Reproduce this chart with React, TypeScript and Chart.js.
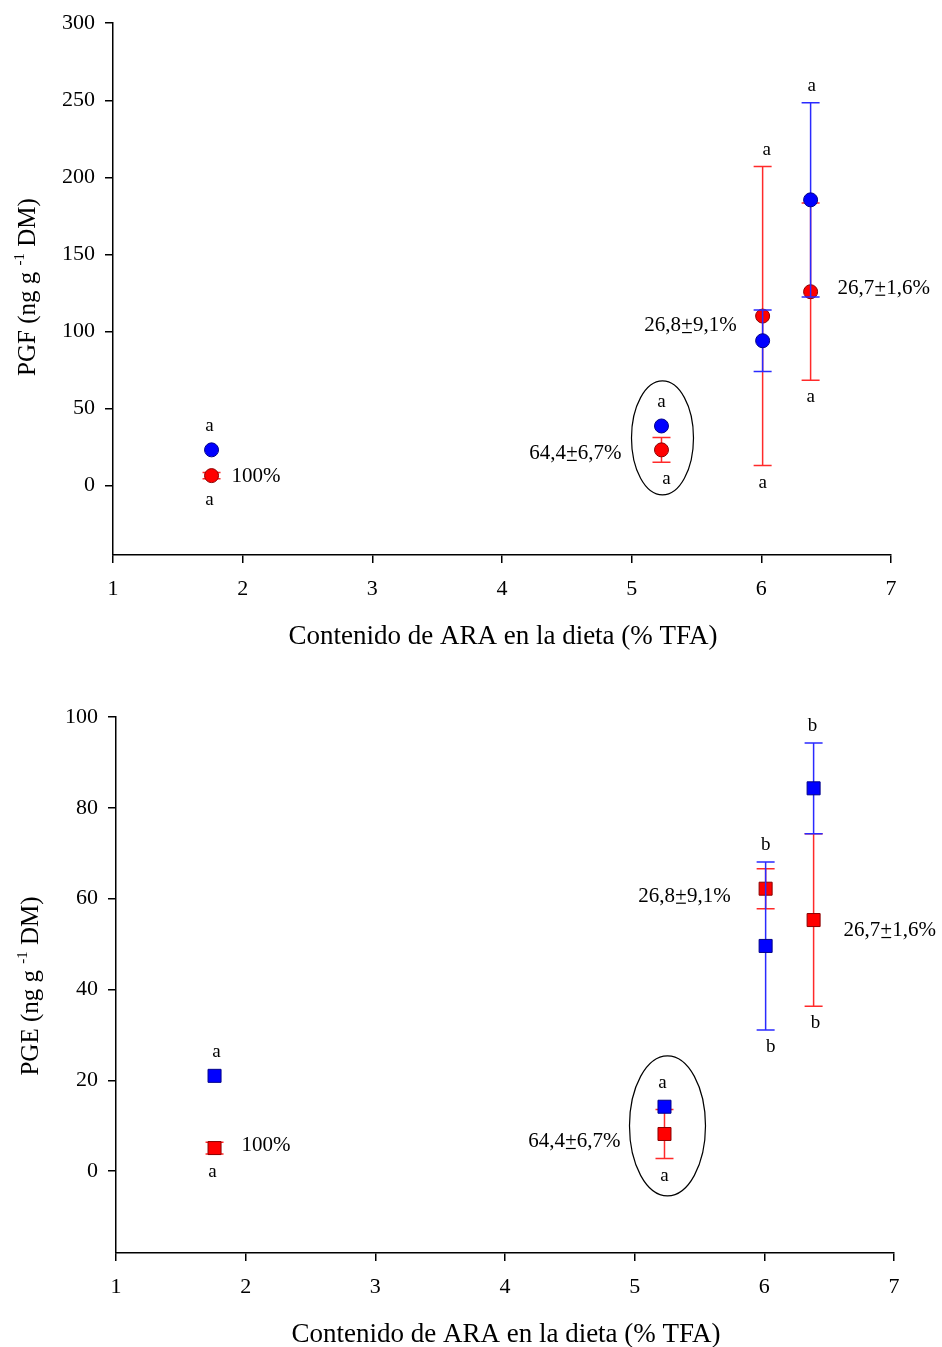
import React, { useEffect, useRef } from "react";
import { Chart, registerables } from "chart.js";

Chart.register(...registerables);

// Dietary ARA content (% of total fatty acids) for the four diets
const araContent = [1.76, 5.23, 6.01, 6.38];
const xTicks = [1, 2, 3, 4, 5, 6, 7];

// PGF (ng g-1 DM): mean and error for the blue and red series
const pgfTicks = [0, 50, 100, 150, 200, 250, 300];
const pgfBlue = [23.2, 38.7, 94.0, 185.4];
const pgfBlueErr = [0, 0, 20.0, 63.0];
const pgfRed = [6.5, 23.2, 110.0, 125.8];
const pgfRedErr = [2.0, 8.0, 97.0, 57.5];
const pgfUpperLetters = ["a", "a", "a", "a"];
const pgfLowerLetters = ["a", "a", "a", "a"];

// PGE (ng g-1 DM): mean and error for the blue and red series
const pgeTicks = [0, 20, 40, 60, 80, 100];
const pgeBlue = [21.0, 14.2, 49.6, 84.3];
const pgeBlueErr = [0, 0, 18.5, 10.0];
const pgeRed = [5.1, 8.2, 62.2, 55.3];
const pgeRedErr = [1.3, 5.4, 4.4, 19.0];
const pgeUpperLetters = ["a", "a", "b", "b"];
const pgeLowerLetters = ["a", "a", "b", "b"];

// Share labels written next to each diet ("±" is typeset as an underlined plus)
const shareLabels = ["100%", "64,4±6,7%", "26,8±9,1%", "26,7±1,6%"];

const X_TITLE = "Contenido de ARA en la dieta (% TFA)";
const FONT = "'Liberation Serif', 'Times New Roman', serif";
const CANVAS_W = 942;

type Panel = {
  canvasHeight: number;
  area: { left: number; right: number; top: number; bottom: number };
  yMin: number;
  yMax: number;
  yTicks: number[];
  yName: string;
  blue: number[];
  blueErr: number[];
  red: number[];
  redErr: number[];
  upper: string[];
  lower: string[];
  pointStyle: "circle" | "rect";
  pointRadius: number;
  markerHalf: number;
  upperDx: number[];
  lowerDx: number[];
  shareDx: number[];
  shareDy: number[];
  ellipse: { dx: number; dy: number; rx: number; ry: number };
  xTitleAt: [number, number];
  yTitleAt: [number, number];
};

const panels: Panel[] = [
  {
    canvasHeight: 673,
    area: { left: 113, right: 891, top: 20, bottom: 555 },
    yMin: -45,
    yMax: 300,
    yTicks: pgfTicks,
    yName: "PGF",
    blue: pgfBlue,
    blueErr: pgfBlueErr,
    red: pgfRed,
    redErr: pgfRedErr,
    upper: pgfUpperLetters,
    lower: pgfLowerLetters,
    pointStyle: "circle",
    pointRadius: 7,
    markerHalf: 7,
    upperDx: [-2, 0, 4, 1],
    lowerDx: [-2, 5, 0, 0],
    shareDx: [20, -40, -26, 27],
    shareDy: [-1, 2, 8, -5],
    ellipse: { dx: 1, dy: 0, rx: 31, ry: 57 },
    xTitleAt: [503, 637],
    yTitleAt: [27, 287],
  },
  {
    canvasHeight: 674,
    area: { left: 116, right: 894, top: 44, bottom: 580 },
    yMin: -18,
    yMax: 100,
    yTicks: pgeTicks,
    yName: "PGE",
    blue: pgeBlue,
    blueErr: pgeBlueErr,
    red: pgeRed,
    redErr: pgeRedErr,
    upper: pgeUpperLetters,
    lower: pgeLowerLetters,
    pointStyle: "rect",
    pointRadius: 9.2,
    markerHalf: 6.5,
    upperDx: [2, -2, 0, -1],
    lowerDx: [-2, 0, 5, 2],
    shareDx: [27, -44, -35, 30],
    shareDy: [-4, 6, 6, 9],
    ellipse: { dx: 3, dy: 5.5, rx: 38, ry: 70 },
    xTitleAt: [506, 662],
    yTitleAt: [30, 313],
  },
];

const CAP = 9;

// Draws each dataset's vertical error bars right before its markers
const errorBarPlugin = {
  id: "errorBars",
  beforeDatasetDraw(chart: any, args: any) {
    const ds = chart.data.datasets[args.index];
    const errs: number[] | undefined = ds.errors;
    if (!errs) return;
    const xs = chart.scales.x;
    const ys = chart.scales.y;
    const ctx = chart.ctx;
    ctx.save();
    ctx.strokeStyle = ds.errorColor;
    ctx.lineWidth = 1.5;
    ds.data.forEach((p: { x: number; y: number }, i: number) => {
      const e = errs[i];
      if (!e) return;
      const px = xs.getPixelForValue(p.x);
      const top = ys.getPixelForValue(p.y + e);
      const bot = ys.getPixelForValue(p.y - e);
      ctx.beginPath();
      ctx.moveTo(px, top);
      ctx.lineTo(px, bot);
      ctx.moveTo(px - CAP, top);
      ctx.lineTo(px + CAP, top);
      ctx.moveTo(px - CAP, bot);
      ctx.lineTo(px + CAP, bot);
      ctx.stroke();
    });
    ctx.restore();
  },
};

// Writes a share label, rendering "±" as a plus sign with an underline
function drawShareLabel(
  ctx: CanvasRenderingContext2D,
  text: string,
  x: number,
  yMid: number,
  alignLeft: boolean
) {
  const parts = text.split("±");
  const pieces: string[] = [];
  parts.forEach((p, k) => {
    pieces.push(p);
    if (k < parts.length - 1) pieces.push("+");
  });
  const widths = pieces.map((p) => ctx.measureText(p).width);
  const total = widths.reduce((a, b) => a + b, 0);
  let cx = alignLeft ? x : x - total;
  const baseline = yMid + 7;
  ctx.textAlign = "left";
  ctx.textBaseline = "alphabetic";
  pieces.forEach((p, k) => {
    ctx.fillText(p, cx, baseline);
    if (k % 2 === 1) {
      ctx.save();
      ctx.lineWidth = 1.2;
      ctx.beginPath();
      ctx.moveTo(cx + 1, baseline + 1.5);
      ctx.lineTo(cx + widths[k] - 1, baseline + 1.5);
      ctx.stroke();
      ctx.restore();
    }
    cx += widths[k];
  });
}

function makeTextPlugin(panel: Panel) {
  return {
    id: "panelText",
    afterDraw(chart: any) {
      const ctx: CanvasRenderingContext2D = chart.ctx;
      const xs = chart.scales.x;
      const ys = chart.scales.y;
      ctx.save();
      ctx.fillStyle = "#000";
      ctx.strokeStyle = "#000";

      araContent.forEach((xv, i) => {
        const px = xs.getPixelForValue(xv);
        const series = [
          { m: panel.blue[i], e: panel.blueErr[i] },
          { m: panel.red[i], e: panel.redErr[i] },
        ];
        let upper = Infinity;
        let lower = -Infinity;
        series.forEach(({ m, e }) => {
          upper = Math.min(upper, ys.getPixelForValue(m + e), ys.getPixelForValue(m) - panel.markerHalf);
          lower = Math.max(lower, ys.getPixelForValue(m - e), ys.getPixelForValue(m) + panel.markerHalf);
        });

        // significance letters above and below each diet
        ctx.font = `19px ${FONT}`;
        ctx.textAlign = "center";
        ctx.textBaseline = "middle";
        ctx.fillText(panel.upper[i], px + panel.upperDx[i], upper - 17);
        ctx.fillText(panel.lower[i], px + panel.lowerDx[i], lower + 17);

        // share label beside the red marker
        const redY = ys.getPixelForValue(panel.red[i]);
        const dx = panel.shareDx[i];
        ctx.font = `21px ${FONT}`;
        drawShareLabel(ctx, shareLabels[i], px + dx, redY + panel.shareDy[i], dx > 0);

        // ellipse around the second diet
        if (i === 1) {
          const blueY = ys.getPixelForValue(panel.blue[i]);
          const cy = (blueY + redY) / 2 + panel.ellipse.dy;
          ctx.lineWidth = 1.2;
          ctx.beginPath();
          ctx.ellipse(px + panel.ellipse.dx, cy, panel.ellipse.rx, panel.ellipse.ry, 0, 0, Math.PI * 2);
          ctx.stroke();
        }
      });

      // x-axis title
      ctx.font = `27px ${FONT}`;
      ctx.textAlign = "center";
      ctx.textBaseline = "middle";
      ctx.fillText(X_TITLE, panel.xTitleAt[0], panel.xTitleAt[1]);

      // rotated y-axis title with a superscript exponent
      const big = `25px ${FONT}`;
      const small = `15px ${FONT}`;
      const partA = `${panel.yName} (ng g `;
      const sup = "-1";
      const partB = " DM)";
      ctx.font = big;
      const wA = ctx.measureText(partA).width;
      const wB = ctx.measureText(partB).width;
      ctx.font = small;
      const wS = ctx.measureText(sup).width;
      const total = wA + wS + wB;
      ctx.translate(panel.yTitleAt[0], panel.yTitleAt[1]);
      ctx.rotate(-Math.PI / 2);
      ctx.textAlign = "left";
      ctx.textBaseline = "alphabetic";
      let x0 = -total / 2;
      const base = 8;
      ctx.font = big;
      ctx.fillText(partA, x0, base);
      x0 += wA;
      ctx.font = small;
      ctx.fillText(sup, x0, base - 11);
      x0 += wS;
      ctx.font = big;
      ctx.fillText(partB, x0, base);
      ctx.restore();
    },
  };
}

function PanelChart({ panel }: { panel: Panel }) {
  const ref = useRef<HTMLCanvasElement>(null);

  useEffect(() => {
    if (!ref.current) return;
    const tickFont = { family: FONT, size: 22 };
    const chart = new Chart(ref.current, {
      type: "scatter",
      data: {
        datasets: [
          {
            label: "blue",
            data: araContent.map((x, i) => ({ x, y: panel.blue[i] })),
            errors: panel.blueErr,
            errorColor: "#2a2aff",
            pointStyle: panel.pointStyle,
            pointRadius: panel.pointRadius,
            pointHoverRadius: panel.pointRadius,
            backgroundColor: "#0000ff",
            borderColor: "#00008a",
            borderWidth: 1,
            clip: false,
          } as any,
          {
            label: "red",
            data: araContent.map((x, i) => ({ x, y: panel.red[i] })),
            errors: panel.redErr,
            errorColor: "#ff2a2a",
            pointStyle: panel.pointStyle,
            pointRadius: panel.pointRadius,
            pointHoverRadius: panel.pointRadius,
            backgroundColor: "#ff0000",
            borderColor: "#8a0000",
            borderWidth: 1,
            clip: false,
          } as any,
        ],
      },
      options: {
        responsive: false,
        animation: false,
        devicePixelRatio: 1,
        layout: {
          padding: { top: panel.area.top, right: CANVAS_W - panel.area.right, left: 0, bottom: 0 },
        },
        plugins: { legend: { display: false }, tooltip: { enabled: false } },
        scales: {
          x: {
            type: "linear",
            min: 1,
            max: 7,
            afterBuildTicks: (s: any) => {
              s.ticks = xTicks.map((v) => ({ value: v }));
            },
            afterFit: (s: any) => {
              s.height = panel.canvasHeight - panel.area.bottom;
            },
            grid: {
              display: true,
              drawOnChartArea: false,
              drawTicks: true,
              tickLength: 8,
              color: "#000",
              lineWidth: 1.5,
            },
            border: { display: true, color: "#000", width: 1.5 },
            ticks: { color: "#000", font: tickFont, padding: 13, maxRotation: 0 },
          },
          y: {
            type: "linear",
            min: panel.yMin,
            max: panel.yMax,
            afterBuildTicks: (s: any) => {
              s.ticks = panel.yTicks.map((v) => ({ value: v }));
            },
            afterFit: (s: any) => {
              s.width = panel.area.left;
            },
            grid: {
              display: true,
              drawOnChartArea: false,
              drawTicks: true,
              tickLength: 8,
              color: "#000",
              lineWidth: 1.5,
            },
            border: { display: true, color: "#000", width: 1.5 },
            ticks: { color: "#000", font: tickFont, padding: 10 },
          },
        },
      },
      plugins: [errorBarPlugin, makeTextPlugin(panel)],
    } as any);
    return () => chart.destroy();
  }, [panel]);

  return (
    <canvas
      ref={ref}
      width={CANVAS_W}
      height={panel.canvasHeight}
      style={{ display: "block", width: CANVAS_W, height: panel.canvasHeight }}
    />
  );
}

export default function App() {
  return (
    <div
      style={{
        position: "absolute",
        left: 0,
        top: 0,
        width: CANVAS_W,
        height: 1347,
        background: "#fff",
      }}
    >
      {panels.map((p) => (
        <PanelChart key={p.yName} panel={p} />
      ))}
    </div>
  );
}
